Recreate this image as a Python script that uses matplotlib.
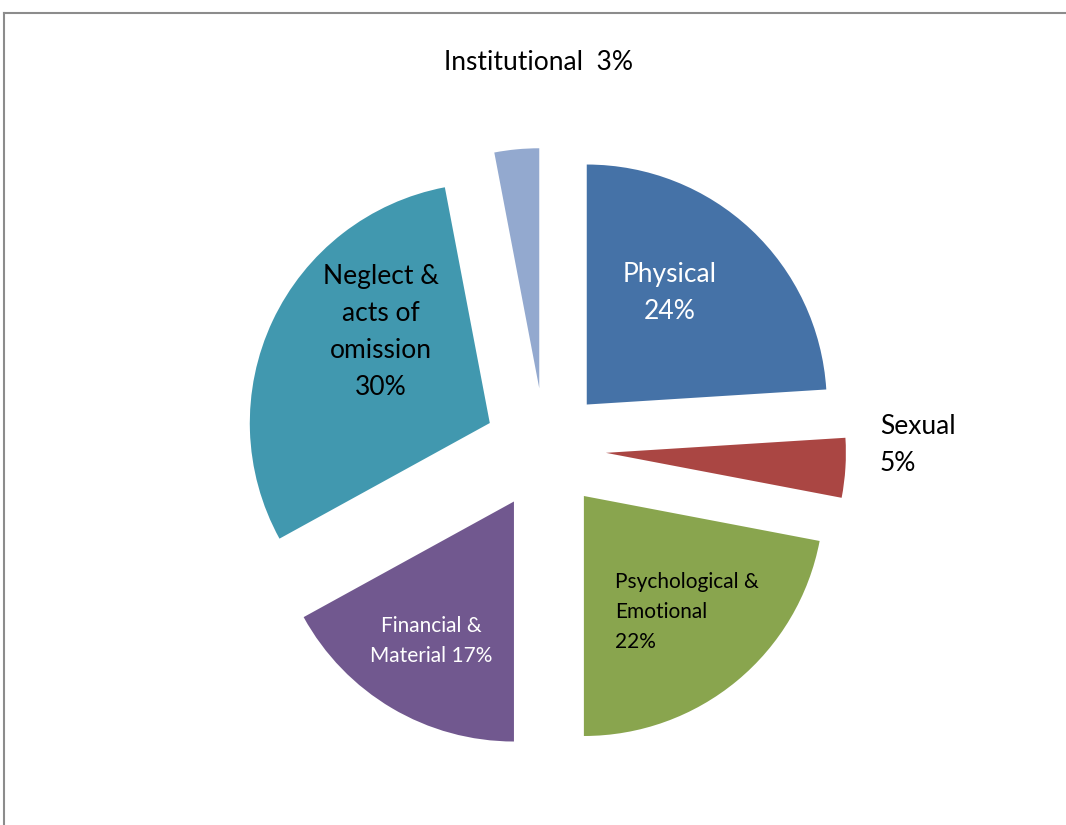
import matplotlib
# no display in the sandbox
matplotlib.use('Agg')
from matplotlib import pyplot as plt
from matplotlib.lines import Line2D

categories = ['Physical', 'Sexual', 'Psychological & Emotional',
              'Financial & Material', 'Neglect & acts of omission',
              'Institutional']
shares = [24, 4, 22, 17, 30, 3]
colors = ['#4572A7', '#AA4643', '#89A54E', '#71588F', '#4198AF', '#93A9CF']
label_texts = ['Physical\n24%', 'Sexual\n5%', 'Psychological &\nEmotional\n22%',
               'Financial &\nMaterial 17%', 'Neglect &\nacts of\nomission\n30%',
               'Institutional  3%']

W, H = 1066, 825
font = 'Lato'

fig = plt.figure(figsize=(W / 100, H / 100), dpi=100)
ax = fig.add_axes([0, 0, 1, 1])

# pixel-space layout: pie centre and radius, every slice pulled out by the same amount
cx, cy, r = 545, H - 449, 240
ax.pie(shares, colors=colors, startangle=90, counterclock=False,
       explode=[61] * len(shares), radius=r, center=(cx, cy),
       wedgeprops=dict(linewidth=0))
ax.set_xlim(0, W)
ax.set_ylim(0, H)
ax.axis('off')

big = 19
small = 15
# (x, y from top, ha, colour, size, line spacing)
label_pos = [
    (670, 293, 'center', 'white', big, 1.6),
    (880, 445, 'left', 'black', big, 1.6),
    (615, 612, 'left', 'black', small, 1.65),
    (431, 641, 'center', 'white', small, 1.65),
    (381, 332, 'center', 'black', big, 1.6),
    (538, 62, 'center', 'black', big, 1.6),
]
for txt, (x, y, ha, col, size, ls) in zip(label_texts, label_pos):
    ax.text(x, H - y, txt, ha=ha, va='center', color=col, fontsize=size,
            fontfamily=font, linespacing=ls, multialignment=ha)

# chart border (only top and left visible in the crop)
fig.add_artist(Line2D([4 / W, 4 / W], [0, 1 - 13 / H], transform=fig.transFigure,
                      color='#8c8c8c', linewidth=1.5))
fig.add_artist(Line2D([4 / W, 1], [1 - 13 / H, 1 - 13 / H], transform=fig.transFigure,
                      color='#8c8c8c', linewidth=1.5))

fig.savefig('out.png', dpi=100)
